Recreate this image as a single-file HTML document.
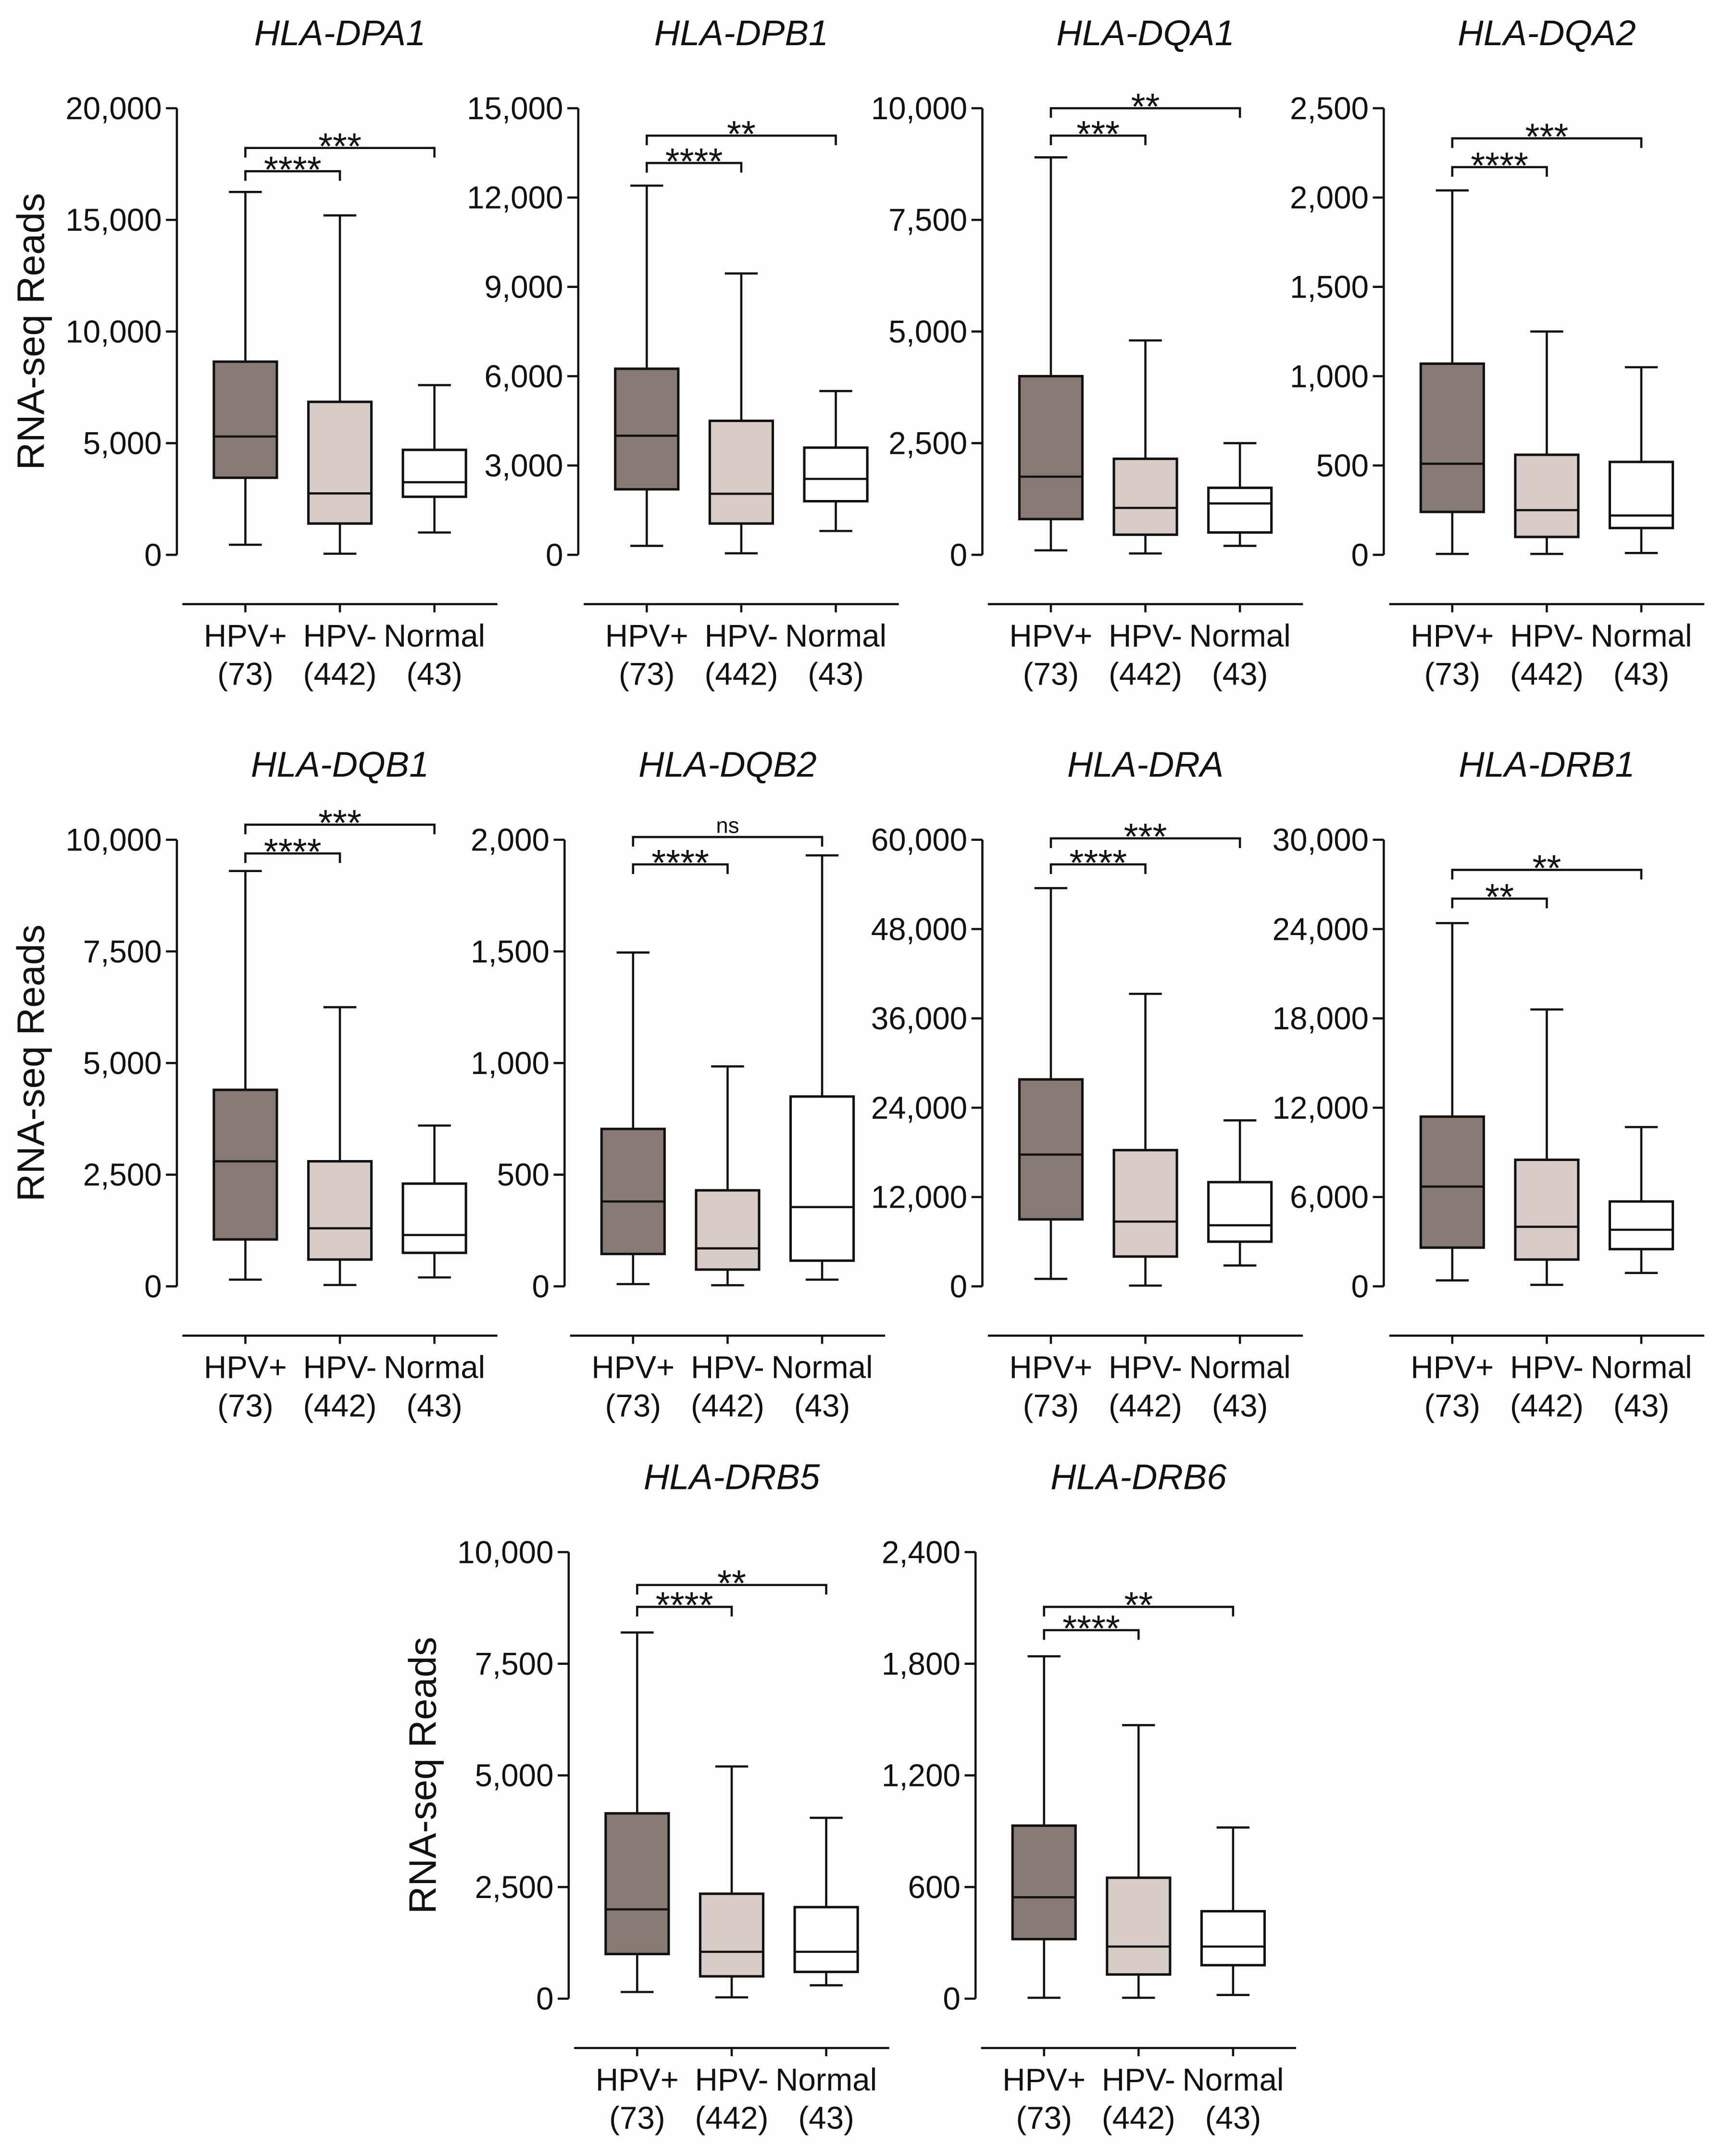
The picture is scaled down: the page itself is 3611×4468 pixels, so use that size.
<!DOCTYPE html>
<html><head><meta charset="utf-8">
<style>
html,body{margin:0;padding:0;background:#fdfdfd;}
svg{display:block;}
text{font-family:"Liberation Sans",sans-serif;fill:#111;}
</style></head>
<body>
<svg id="fig" width="3611" height="4468" viewBox="0 0 1267 1568" xmlns="http://www.w3.org/2000/svg">
<rect x="0" y="0" width="1267" height="1568" fill="#fdfdfd"/>
</svg>
<script>
// ---- data ----
const titles = ["HLA-DPA1","HLA-DPB1","HLA-DQA1","HLA-DQA2","HLA-DQB1","HLA-DQB2","HLA-DRA","HLA-DRB1","HLA-DRB5","HLA-DRB6"];
const axisMax = [20000,15000,10000,2500,10000,2000,60000,30000,10000,2400];
const tickStep = [5000,3000,2500,500,2500,500,12000,6000,2500,600];
const categories = ["HPV+","HPV-","Normal"];
const counts = ["(73)","(442)","(43)"];
// [min, q1, median, q3, max]
const hpvPos = [
 [450,3450,5300,8650,16250],[300,2200,4000,6250,12400],[100,800,1750,4000,8900],[5,240,510,1070,2040],
 [150,1050,2800,4400,9300],[10,145,380,705,1495],[1000,9000,17700,27800,53500],[400,2600,6700,11400,24400],
 [150,1000,2000,4150,8200],[5,320,545,930,1840]];
const hpvNeg = [
 [50,1400,2750,6850,15200],[50,1050,2050,4500,9450],[30,450,1050,2150,4800],[5,100,250,560,1250],
 [30,600,1300,2800,6250],[5,75,170,430,985],[100,4000,8700,18300,39300],[100,1800,4000,8500,18600],
 [30,500,1050,2350,5200],[5,130,280,650,1470]];
const normal = [
 [1000,2600,3250,4700,7600],[800,1800,2550,3600,5500],[200,500,1150,1500,2500],[10,150,220,520,1050],
 [200,750,1150,2300,3600],[30,115,355,850,1930],[2800,6000,8200,14000,22300],[900,2500,3800,5700,10700],
 [300,600,1050,2050,4050],[20,180,280,470,920]];
const sigNeg = ["****","****","***","****","****","****","****","**","****","****"];
const sigNormal = ["***","**","**","***","***","ns","***","**","**","**"];

// ---- layout ----
const axisX = [129,422,717,1010,129,412,717,1010,415,712];
const topY = [79,79,79,79,613,613,613,613,1133,1133];
const brNegY = [125,119,99,122,623,631,631,656,1173,1190];
const brNormY = [108,99,79,101,602,611,612,635,1157,1173];
const plotH = 326, boxOff=[50,119,188], boxW=46, capW=24;
const fills = ["#877a74","#d6cbc6","#ffffff"];
const NS="http://www.w3.org/2000/svg";
const svg=document.getElementById('fig');
function mk(tag,attrs,parent){const e=document.createElementNS(NS,tag);for(const k in attrs)e.setAttribute(k,attrs[k]);(parent||svg).appendChild(e);return e;}

for(let p=0;p<titles.length;p++){
  const g=mk('g',{});
  
  
  const ax=axisX[p], t=topY[p], z=t+plotH;
  const y=v=>z-v/axisMax[p]*plotH;
  const st={stroke:'#111','stroke-width':1.6,fill:'none'};
  const tt=mk('text',{x:ax+119,y:t-46,'font-size':26,'font-style':'italic','text-anchor':'middle'},g);
  tt.textContent=titles[p];
  
  
  if(p===0||p===4||p===8){
    const cy=(t+z)/2, cx=ax-97;
    const yl=mk('text',{x:cx,y:cy,'font-size':28,'text-anchor':'middle',transform:`rotate(-90 ${cx} ${cy})`},g);
    yl.textContent='RNA-seq Reads';
    
    
  }
  const ya=mk('line',Object.assign({x1:ax,y1:t,x2:ax,y2:z},st),g);
  
  
  for(let v=0;v<=axisMax[p]+1e-6;v+=tickStep[p]){
    mk('line',Object.assign({x1:ax-8,y1:y(v),x2:ax,y2:y(v)},st),g);
    const tl=mk('text',{x:ax-11,y:y(v)+8,'font-size':23,'text-anchor':'end'},g);
    tl.textContent=v.toLocaleString('en-US');
    
    
  }
  const xa=mk('line',Object.assign({x1:ax+4,y1:z+36,x2:ax+234,y2:z+36},st),g);
  
  
  const groups=[hpvPos[p],hpvNeg[p],normal[p]];
  for(let i=0;i<3;i++){
    const cx=ax+boxOff[i], d=groups[i];
    mk('line',Object.assign({x1:cx,y1:z+36,x2:cx,y2:z+42},st),g);
    const l1=mk('text',{x:cx,y:z+67,'font-size':23,'text-anchor':'middle'},g);
    l1.textContent=categories[i];
    
    
    const l2=mk('text',{x:cx,y:z+95,'font-size':23,'text-anchor':'middle'},g);
    l2.textContent=counts[i];
    
    
    const bg=mk('g',{},g);
    
    
    mk('line',Object.assign({x1:cx,y1:y(d[0]),x2:cx,y2:y(d[1])},st),bg);
    mk('line',Object.assign({x1:cx,y1:y(d[3]),x2:cx,y2:y(d[4])},st),bg);
    mk('line',Object.assign({x1:cx-capW/2,y1:y(d[0]),x2:cx+capW/2,y2:y(d[0])},st),bg);
    mk('line',Object.assign({x1:cx-capW/2,y1:y(d[4]),x2:cx+capW/2,y2:y(d[4])},st),bg);
    mk('rect',{x:cx-boxW/2,y:y(d[3]),width:boxW,height:y(d[1])-y(d[3]),fill:fills[i],stroke:'#111','stroke-width':1.8},bg);
    mk('line',Object.assign({x1:cx-boxW/2,y1:y(d[2]),x2:cx+boxW/2,y2:y(d[2])},st),bg);
  }
  const brs=[[brNegY[p],boxOff[1],sigNeg[p]],[brNormY[p],boxOff[2],sigNormal[p]]];
  brs.forEach(b=>{
    const x1=ax+boxOff[0], x2=ax+b[1], by=b[0];
    const br=mk('path',Object.assign({d:`M${x1} ${by+7}V${by}H${x2}V${by+7}`},st),g);
    
    
    const isNs=b[2]==='ns';
    const s=mk('text',{x:(x1+x2)/2,y:isNs?by-3:by+8,'font-size':isNs?16:27,'text-anchor':'middle'},g);
    s.textContent=b[2];
    
    
  });
}
</script>
</body></html>
